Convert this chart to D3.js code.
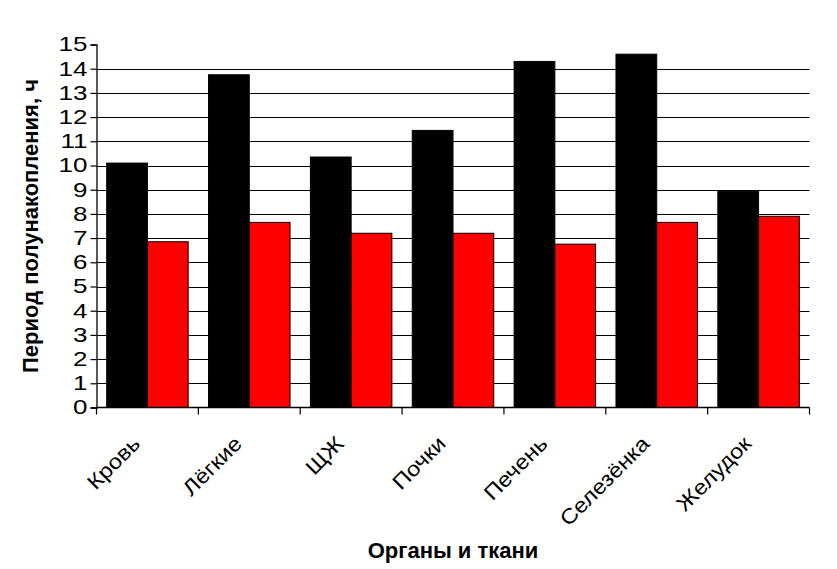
<!DOCTYPE html>
<html>
<head>
<meta charset="utf-8">
<script src="https://cdn.jsdelivr.net/npm/d3@7"></script>
<style>
  html, body { margin: 0; padding: 0; background: #fff; }
  svg { display: block; font-family: "Liberation Sans", Arial, sans-serif; }
</style>
</head>
<body>
<svg id="chart" width="837" height="569"></svg>
<script>
const categories = ["Кровь", "Лёгкие", "ЩЖ", "Почки", "Печень", "Селезёнка", "Желудок"];
const seriesBlack = [10.1, 13.75, 10.35, 11.45, 14.3, 14.6, 8.93];
const seriesRed = [6.85, 7.65, 7.2, 7.2, 6.75, 7.65, 7.9];
const yTicks = [0, 1, 2, 3, 4, 5, 6, 7, 8, 9, 10, 11, 12, 13, 14, 15];
const gridValues = [1, 2, 3, 4, 5, 6, 7, 8, 9, 10, 11, 12, 13, 14];
const yTitle = "Период полунакопления, ч";
const xTitle = "Органы и ткани";

(function () {
const svg = d3.select("#chart");
const pLeft = 96.5, pRight = 809.5, pTop = 44.5, pBottom = 407.5;

const x = d3.scaleBand().domain(categories).range([pLeft, pRight]).padding(0);
const xSub = d3.scaleBand().domain(["black", "red"]).range([0, x.bandwidth()])
  .paddingInner(0).paddingOuter(0.25);
const y = d3.scaleLinear().domain([0, 15]).range([pBottom, pTop]);

// gridlines
svg.append("g").selectAll("line").data(gridValues).join("line")
  .attr("x1", pLeft).attr("x2", pRight)
  .attr("y1", d => Math.round(y(d)) + 0.5).attr("y2", d => Math.round(y(d)) + 0.5)
  .attr("stroke", "#000").attr("stroke-width", 1.2);

// bars
const rows = categories.map((c, i) => ({ c, black: seriesBlack[i], red: seriesRed[i] }));
const groups = svg.append("g").selectAll("g").data(rows).join("g")
  .attr("transform", d => `translate(${x(d.c)},0)`);
groups.append("rect")
  .attr("x", xSub("black")).attr("width", xSub.bandwidth())
  .attr("y", d => y(d.black)).attr("height", d => y(0) - y(d.black))
  .attr("fill", "#000").attr("stroke", "#000").attr("stroke-width", 1);
groups.append("rect")
  .attr("x", xSub("red")).attr("width", xSub.bandwidth())
  .attr("y", d => y(d.red)).attr("height", d => y(0) - y(d.red))
  .attr("fill", "#ff0000").attr("stroke", "#000").attr("stroke-width", 1);

// y axis
const yAxis = d3.axisLeft(y).tickValues(yTicks).tickSize(6).tickPadding(3).tickFormat(d3.format("d"));
const gy = svg.append("g").attr("transform", `translate(${pLeft},0)`).call(yAxis);
gy.select(".domain").attr("stroke", "#000").attr("stroke-width", 1.3);
gy.selectAll(".tick line").attr("stroke", "#000").attr("stroke-width", 1.2);
gy.selectAll(".tick text").attr("font-size", 20).attr("fill", "#000")
  .attr("font-family", "'Liberation Sans', Arial, sans-serif")
  .attr("x", 0).attr("transform", "translate(-9,0) scale(1.3,1)");

// x axis
const boundaries = d3.range(categories.length + 1).map(i => pLeft + i * x.step());
const gx = svg.append("g");
gx.append("line").attr("x1", pLeft).attr("x2", pRight).attr("y1", pBottom).attr("y2", pBottom)
  .attr("stroke", "#000").attr("stroke-width", 1.3);
gx.selectAll("line.tk").data(boundaries).join("line").attr("class", "tk")
  .attr("x1", d => d).attr("x2", d => d).attr("y1", pBottom).attr("y2", pBottom + 7)
  .attr("stroke", "#000").attr("stroke-width", 1.2);
gx.selectAll("text").data(categories).join("text")
  .attr("transform", d => `translate(${x(d) + x.bandwidth() / 2 - 6},445) rotate(-45) scale(1.12,1)`)
  .attr("text-anchor", "end")
  .attr("font-size", 21).attr("fill", "#000")
  .text(d => d);

// titles
svg.append("text")
  .attr("transform", `translate(37.5,${(pTop + pBottom) / 2}) rotate(-90)`)
  .attr("text-anchor", "middle").attr("font-size", 22).attr("font-weight", "bold")
  .text(yTitle);
svg.append("text")
  .attr("x", (pLeft + pRight) / 2).attr("y", 558)
  .attr("text-anchor", "middle").attr("font-size", 22).attr("font-weight", "bold")
  .text(xTitle);
})();
</script>
</body>
</html>
